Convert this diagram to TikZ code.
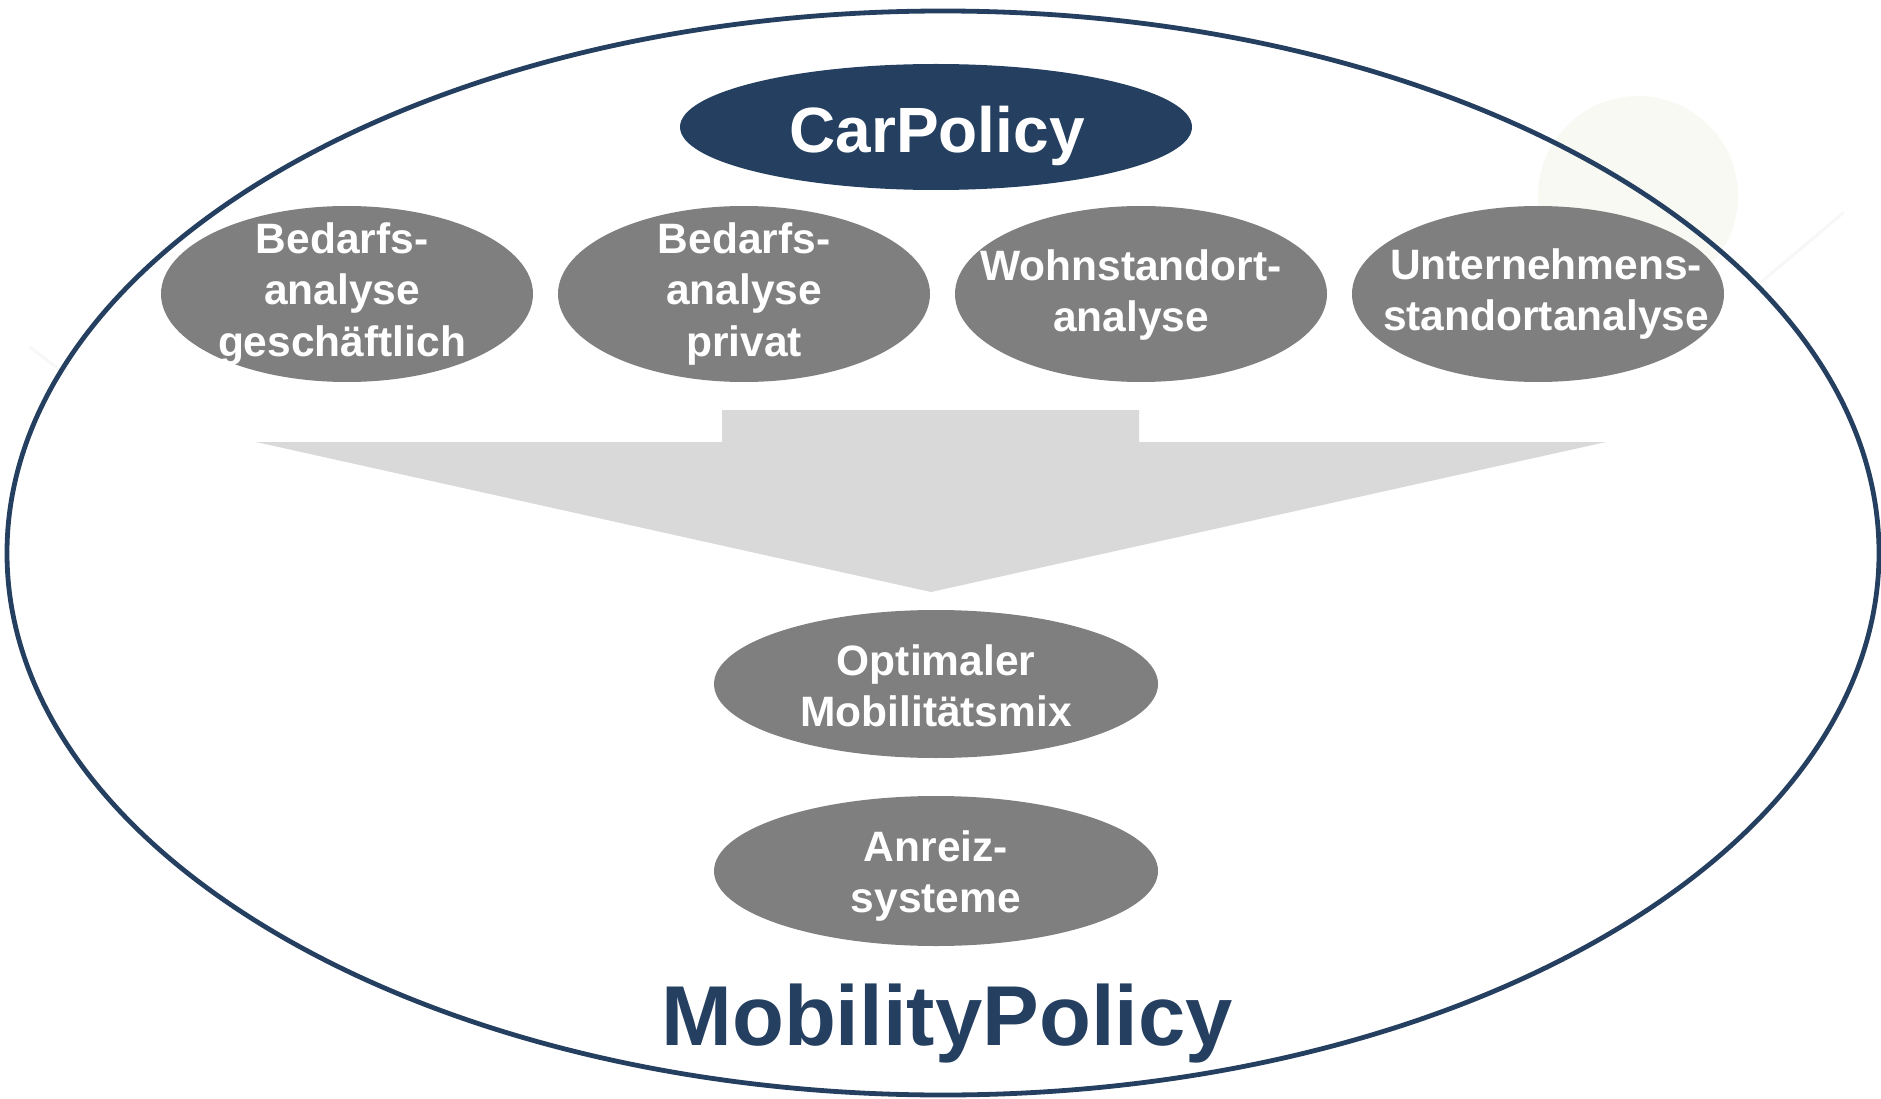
\documentclass[tikz,border=0pt]{standalone}
\usepackage{fontspec}
\setmainfont{Liberation Sans}
\usetikzlibrary{shapes.geometric}
\definecolor{navy}{HTML}{243F60}
\definecolor{ovalgray}{HTML}{7F7F7F}
\definecolor{arrowgray}{HTML}{D9D9D9}
\definecolor{faint}{HTML}{F8F9F2}
\tikzset{
  oval/.style={fill=ovalgray},
  ovaltext/.style={text=white, font=\bfseries\fontsize{42.5}{51.6}\selectfont, align=center, inner sep=0pt},
}
\begin{document}
\begin{tikzpicture}[x=1pt,y=-1pt]
\useasboundingbox (0,0) rectangle (1881,1099);
% faint background decoration
\fill[faint] (1638,196) circle [radius=100];
\draw[gray!6, line width=3pt, line cap=round] (1843,213) -- (1760,283);
\draw[gray!6, line width=3pt, line cap=round] (30,347) -- (60,370);
% big outer ellipse
\draw[navy, line width=4.8pt] (943,553) ellipse [x radius=936, y radius=542];
% CarPolicy
\fill[navy] (936,127) ellipse [x radius=256, y radius=63];
\node[text=white, font=\bfseries\fontsize{64}{70}\selectfont, inner sep=0pt, anchor=base] (car) at (937,153) {CarPolicy};
% analysis ovals
\fill[oval] (347,294) ellipse [x radius=186, y radius=88];
\fill[oval] (744,294) ellipse [x radius=186, y radius=88];
\fill[oval] (1141,294) ellipse [x radius=186, y radius=88];
\fill[oval] (1538,294) ellipse [x radius=186, y radius=88];
\node[ovaltext] (b1) at (342,294) {Bedarfs-\\analyse\\geschäftlich};
\node[ovaltext] (b2) at (744,294) {Bedarfs-\\analyse\\privat};
\node[ovaltext] (b3) at (1131,295) {Wohnstandort-\\analyse};
\node[ovaltext] (b4) at (1546,294) {Unternehmens-\\standortanalyse};
% big arrow
\fill[arrowgray] (722,410) -- (1139,410) -- (1139,442) -- (1606,442) -- (931,592) -- (256,442) -- (722,442) -- cycle;
% result ovals
\fill[oval] (936,684) ellipse [x radius=222, y radius=74];
\node[ovaltext] (mix) at (936,686) {Optimaler\\Mobilitätsmix};
\fill[oval] (936,871) ellipse [x radius=222, y radius=75];
\node[ovaltext] (anr) at (936,876) {Anreiz-\\systeme};
% title
\node[text=navy, font=\bfseries\fontsize{85}{92}\selectfont, inner sep=0pt, anchor=base] (mob) at (947,1045) {MobilityPolicy};
\end{tikzpicture}
\end{document}
